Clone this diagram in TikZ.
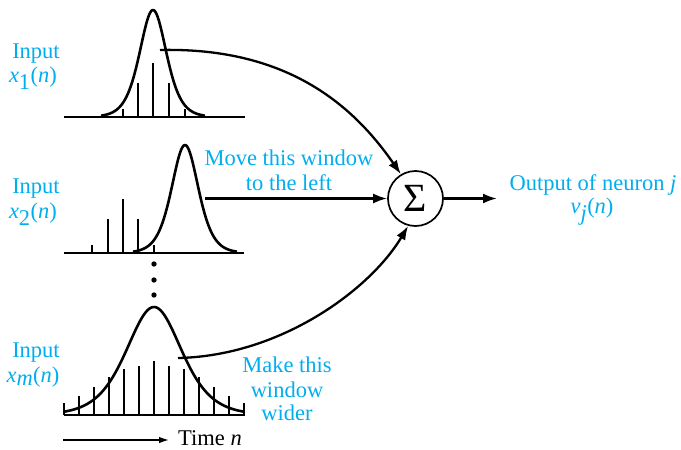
\documentclass[tikz,border=0pt]{standalone}
\usepackage{fontspec}
\setmainfont{Liberation Serif}
\usetikzlibrary{arrows.meta}
\definecolor{cy}{RGB}{0,174,239}
\begin{document}
\begin{tikzpicture}[x=1pt,y=-1pt,
  lbl/.style={text=cy, font=\fontsize{22.5}{26}\selectfont, anchor=base, inner sep=0pt},
  blk/.style={text=black, font=\fontsize{22.5}{26}\selectfont, anchor=base west, inner sep=0pt},
  gauss/.style={line width=2.6pt, line join=round},
  bar/.style={line width=2.6pt},
  axisline/.style={line width=2.2pt},
  arr/.style={line width=2.3pt, -{Latex[length=14pt,width=10pt]}},
  tarr/.style={line width=1.4pt, -{Latex[length=10pt,width=6.5pt]}}]
\useasboundingbox (0,0) rectangle (681,450);

% Panel 1
\draw[axisline] (64,117) -- (245,117);
\foreach \x/\h in {123/8,138/34,153/54,169/34,185/8} \draw[bar] (\x,117) -- ++(0,-\h);
\draw[gauss] plot[domain=101:205, samples=100] (\x, {117-107/(cosh((\x-153)/18)^2)});

% Panel 2
\draw[axisline] (64,253) -- (244,253);
\foreach \x/\h in {92/8,108/34,123/54,138/34,154/8} \draw[bar] (\x,253) -- ++(0,-\h);
\draw[gauss] plot[domain=133:237, samples=100] (\x, {253-108/(cosh((\x-185)/18)^2)});

% dots
\foreach \y in {264,280,295} \fill (154,\y) circle (2.7pt);

% Panel 3
\draw[axisline] (64,415) -- (245,415);
\foreach \x/\h in {64/12,79/19,94/28,109/38,124/46,139/49,154/54,169/49,184/46,199/38,214/28,229/19,244/12} \draw[bar] (\x,415) -- ++(0,-\h);
\draw[gauss] plot[domain=64:244, samples=140] (\x, {415-108/(cosh((\x-154)/37)^2)});

% Labels
\node[lbl] (in1) at (36,58) {Input};
\node[lbl] (x1) at (33,82) {\textit{x}$_{\textrm{1}}$(\textit{n})};
\node[lbl] (in2) at (36,193) {Input};
\node[lbl] (x2) at (33,218) {\textit{x}$_{\textrm{2}}$(\textit{n})};
\node[lbl] (in3) at (36,357) {Input};
\node[lbl] (x3) at (33,382) {\textit{x}$_{\textit{m}}$(\textit{n})};

\node[lbl] (mv1) at (289,165) {Move this window};
\node[lbl] (mv2) at (289,190) {to the left};
\node[lbl] (mk1) at (287,372) {Make this};
\node[lbl] (mk2) at (287,397) {window};
\node[lbl] (mk3) at (287,420) {wider};
\node[lbl] (o1) at (593,190) {Output of neuron \textit{j}};
\node[lbl] (o2) at (592,213) {\textit{v}$_{\textit{j}}$(\textit{n})};

% Summation
\node[circle, draw, line width=1.7pt, minimum size=55pt, inner sep=0pt] (sum) at (415.5,198.5) {\fontsize{40}{40}\selectfont Σ};

% connectors
\coordinate (s1) at (160,50);
\coordinate (s2) at (205,198.5);
\coordinate (s3) at (178,358);
\coordinate (out) at (497,198.5);
\draw[arr] (s1) .. controls (290,47) and (355,108) .. (sum.121);
\draw[arr] (s2) -- (sum.west);
\draw[arr] (s3) .. controls (280,356) and (370,290) .. (sum.255);
\draw[arr] (sum.east) -- (out);

% time axis
\node[blk] (time) at (178,445.5) {Time \textit{n}};
\coordinate (t0) at (63,440);
\coordinate (t1) at (169,440);
\draw[tarr] (t0) -- (t1);
\end{tikzpicture}
\end{document}
